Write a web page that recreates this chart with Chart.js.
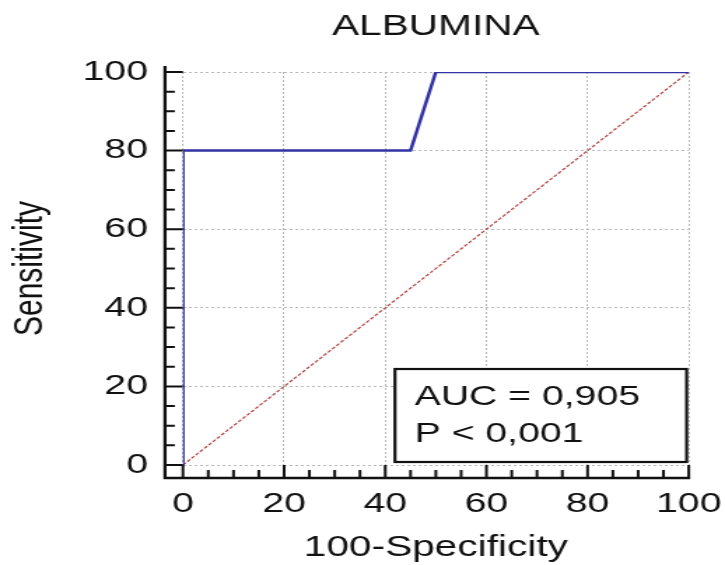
<!DOCTYPE html>
<html>
<head>
<meta charset="utf-8">
<script src="https://cdn.jsdelivr.net/npm/chart.js@4.4.1/dist/chart.umd.min.js"></script>
<style>
  html, body { margin: 0; padding: 0; background: #fff; overflow: hidden; }
  #wrap { width: 518px; height: 565px; transform: scaleX(1.39961); transform-origin: 0 0; }
  canvas { display: block; }
</style>
</head>
<body>
<div id="wrap"><canvas id="c" width="518" height="565"></canvas></div>
<script>
// ---- data ----
const chartTitle = 'ALBUMINA';
const xAxisTitle = '100-Specificity';
const yAxisTitle = 'Sensitivity';
const rocX = [0, 0, 45, 50, 100];      // 100-Specificity
const rocY = [0, 80, 80, 100, 100];    // Sensitivity
const refX = [0, 100];
const refY = [0, 100];
const tickValues = [0, 20, 40, 60, 80, 100];
const minorStep = 5;
const aucLines = ['AUC = 0,905', 'P < 0,001'];

const FONT = '"Liberation Sans", Arial, Helvetica, sans-serif';

const rocPlugin = {
  id: 'rocDecor',
  afterDraw(chart) {
    const { ctx, scales: { x, y }, chartArea: a } = chart;
    ctx.save();
    // AUC box
    const bx0 = a.left + 151.5, bx1 = a.right - 1.5;
    const by0 = a.bottom - 96, by1 = a.bottom - 3;
    ctx.fillStyle = '#fff';
    ctx.fillRect(bx0, by0, bx1 - bx0, by1 - by0);
    ctx.strokeStyle = '#111';
    ctx.lineWidth = 2.2;
    ctx.strokeRect(bx0, by0, bx1 - bx0, by1 - by0);
    ctx.fillStyle = '#111';
    ctx.font = '28px ' + FONT;
    ctx.textAlign = 'left';
    ctx.textBaseline = 'alphabetic';
    ctx.fillText(aucLines[0], bx0 + 14, a.bottom - 60);
    ctx.fillText(aucLines[1], bx0 + 14, a.bottom - 23);

    // axes
    const axX = a.left - 12.8;
    const axY = a.bottom + 13;
    ctx.strokeStyle = '#111';
    ctx.lineWidth = 2.3;
    ctx.beginPath();
    ctx.moveTo(axX, a.top - 6);
    ctx.lineTo(axX, axY);
    ctx.lineTo(a.right + 1, axY);
    ctx.stroke();
    // ticks
    ctx.lineWidth = 2;
    ctx.beginPath();
    for (let v = 0; v <= 100; v += minorStep) {
      const major = tickValues.includes(v);
      const py = y.getPixelForValue(v);
      ctx.moveTo(axX, py);
      ctx.lineTo(axX + (major ? 12.8 : 7), py);
      const px = x.getPixelForValue(v);
      ctx.moveTo(px, axY);
      ctx.lineTo(px, axY - (major ? 13 : 8));
    }
    ctx.stroke();
    ctx.restore();
  }
};

const gridCommon = {
  color: '#b8b8b8',
  lineWidth: 1,
  drawTicks: false
};

new Chart(document.getElementById('c'), {
  type: 'scatter',
  data: {
    datasets: [
      {
        label: 'ROC',
        data: rocX.map((v, i) => ({ x: v, y: rocY[i] })),
        showLine: true,
        borderColor: '#3232a4',
        borderWidth: 2.5,
        pointRadius: 0,
        fill: false,
        order: 1
      },
      {
        label: 'Reference',
        data: refX.map((v, i) => ({ x: v, y: refY[i] })),
        showLine: true,
        borderColor: '#b04444',
        borderWidth: 1.2,
        borderDash: [3, 1.5],
        pointRadius: 0,
        fill: false,
        order: 2
      }
    ]
  },
  options: {
    responsive: false,
    animation: false,
    devicePixelRatio: 1,
    layout: { padding: { left: 0, right: 25.9, top: 0, bottom: 0 } },
    plugins: {
      legend: { display: false },
      tooltip: { enabled: false },
      title: {
        display: true,
        text: chartTitle,
        fullSize: false,
        color: '#111',
        font: { family: FONT, size: 29, weight: 'normal' },
        padding: { top: 10, bottom: 27.2 }
      }
    },
    scales: {
      x: {
        type: 'linear',
        min: 0, max: 100,
        afterBuildTicks: (s) => { s.ticks = tickValues.map(v => ({ value: v })); },
        ticks: { color: '#111', font: { family: FONT, size: 28 }, padding: 22 },
        grid: gridCommon,
        border: { display: false, dash: [2, 2] },
        title: {
          display: true, text: xAxisTitle, color: '#111',
          font: { family: FONT, size: 29 },
          padding: { top: 0, bottom: 0 }
        },
        afterFit: (s) => { s.height = 100; s.paddingLeft = 0; s.paddingRight = 0; }
      },
      y: {
        type: 'linear',
        min: 0, max: 100,
        afterBuildTicks: (s) => { s.ticks = tickValues.map(v => ({ value: v })); },
        ticks: { color: '#111', font: { family: FONT, size: 28 }, padding: 25 },
        grid: gridCommon,
        border: { display: false, dash: [2, 2] },
        title: {
          display: true, text: yAxisTitle, color: '#111',
          font: { family: FONT, size: 30 },
          padding: { top: 3.4, bottom: 0 }
        },
        afterFit: (s) => { s.width = 130.7; s.paddingTop = 0; s.paddingBottom = 0; }
      }
    }
  },
  plugins: [rocPlugin]
});
</script>
</body>
</html>
